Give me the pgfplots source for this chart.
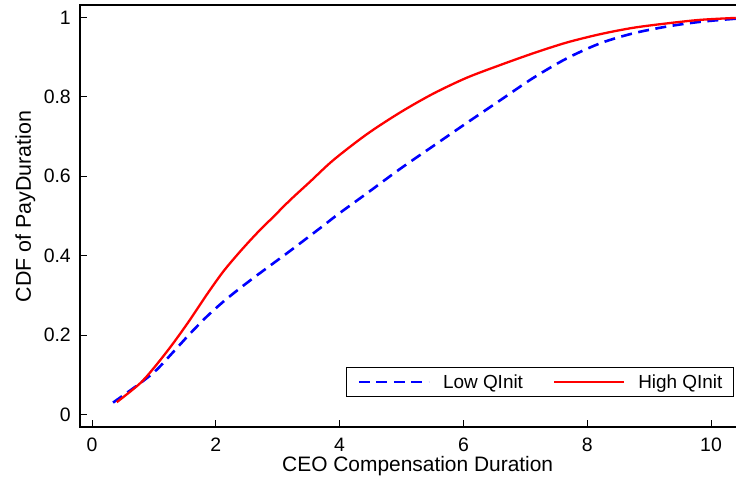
\documentclass[border=0pt]{standalone}
\usepackage{pgfplots}
\pgfplotsset{compat=1.18}
\usepackage{fontspec}
\setmainfont{Liberation Sans}
\begin{document}
\begin{tikzpicture}
\begin{axis}[
  scale only axis,
  width=657bp, height=422bp,
  xmin=-0.194, xmax=10.42,
  ymin=-0.0315, ymax=1.0315,
  xtick={0,2,4,6,8,10},
  ytick={0,0.2,0.4,0.6,0.8,1},
  tick align=inside,
  major tick length=7bp,
  tick style={line width=1bp, black},
  axis line style={line width=2bp},
  xtick pos=bottom, ytick pos=left,
  /pgf/number format/assume math mode=true,
  /pgf/number format/fixed,
  ticklabel style={font=\fontsize{19.5}{22}\selectfont},
  xticklabel style={anchor=base, inner sep=0pt, yshift=-24bp},
  yticklabel style={anchor=east, inner sep=0pt, xshift=-9bp},
  xlabel={CEO Compensation Duration},
  ylabel={CDF of PayDuration},
  xlabel style={font=\fontsize{21}{24}\selectfont, at={(axis description cs:0.514,0)}, anchor=base, inner sep=0pt, yshift=-44bp},
  ylabel style={font=\fontsize{21.5}{24}\selectfont, at={(axis description cs:0,0.5225)}, anchor=base, inner sep=0pt, yshift=49bp},
  legend columns=2,
  legend cell align=left,
  legend style={at={(rel axis cs:0.9954,0.071)}, anchor=south east,
    draw=black, line width=1bp,
    font=\fontsize{19}{22}\selectfont,
    inner xsep=11bp, inner ysep=7bp,
    nodes={inner sep=0pt},
    /tikz/every odd column/.append style={column sep=13bp},
    /tikz/every even column/.append style={column sep=30bp}},
  legend image code/.code={\draw[#1] (0bp,0bp) -- (70bp,0bp);},
]
\addplot[blue, line width=2.6bp, dash pattern=on 11bp off 6.5bp, smooth] coordinates {
(0.34,0.030) (0.78,0.079) (1.04,0.112) (1.31,0.157) (1.58,0.203) (1.85,0.246)
(2.12,0.284) (2.39,0.318) (2.66,0.350) (2.93,0.381) (3.20,0.412) (3.47,0.444)
(3.74,0.476) (3.98,0.505) (4.44,0.557) (4.98,0.619) (5.51,0.676) (6.05,0.734)
(6.59,0.791) (7.13,0.848) (7.67,0.897) (8.21,0.935) (8.74,0.960) (9.28,0.977)
(9.82,0.989) (10.40,0.997)
};
\addlegendentry{Low QInit}
\addplot[red, line width=2.3bp, smooth] coordinates {
(0.40,0.031) (0.78,0.079) (1.04,0.125) (1.31,0.179) (1.58,0.238) (1.85,0.301)
(2.12,0.360) (2.39,0.410) (2.66,0.456) (2.93,0.498) (3.20,0.540) (3.52,0.586)
(3.90,0.641) (4.44,0.706) (4.98,0.761) (5.51,0.808) (6.05,0.848) (6.59,0.880)
(7.13,0.910) (7.67,0.937) (8.21,0.958) (8.74,0.974) (9.28,0.985) (9.82,0.994)
(10.40,0.999)
};
\addlegendentry{High QInit}
\end{axis}
\pgfresetboundingbox
\path ([shift={(-80bp,-50bp)}]current axis.south west) rectangle ([shift={(-1bp,5bp)}]current axis.north east);
\end{tikzpicture}
\end{document}
